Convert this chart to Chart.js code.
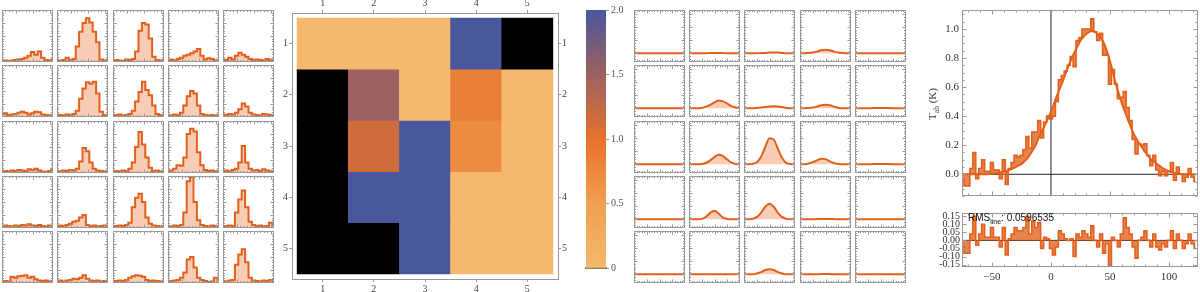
<!DOCTYPE html>
<html>
<head>
<meta charset="utf-8">
<script src="https://cdn.jsdelivr.net/npm/chart.js@4.4.1/dist/chart.umd.min.js"></script>
<style>
  html, body { margin: 0; padding: 0; background: #fff; }
  #wrap { position: relative; width: 1200px; height: 292px; overflow: hidden; }
  #wrap canvas { position: absolute; }
</style>
</head>
<body>
<div id="wrap"></div>
<script>
// ---- observed spectra, 5x5 grid (normalised, 16 channels each) ----
const channels = [1, 2, 3, 4, 5, 6, 7, 8, 9, 10, 11, 12, 13, 14, 15, 16];
const obsRow1 = [
  [0.02,0.03,0.02,0.03,0.04,0.05,0.06,0.08,0.12,0.19,0.14,0.20,0.08,0.04,0.03,0.05],
  [0.03,0.03,0.04,0.08,0.04,0.06,0.30,0.58,0.75,0.84,0.76,0.58,0.38,0.05,0.03,0.04],
  [0.03,0.04,0.03,0.02,0.05,0.04,0.06,0.20,0.60,0.75,0.72,0.45,0.10,0.04,0.03,0.03],
  [0.03,0.05,0.03,0.06,0.08,0.12,0.14,0.17,0.20,0.25,0.12,0.05,0.07,0.06,0.03,0.04],
  [0.05,0.04,0.08,0.05,0.12,0.18,0.14,0.10,0.06,0.04,0.05,0.04,0.03,0.06,0.04,0.05]
];
const obsRow2 = [
  [0.05,0.07,0.04,0.05,0.06,0.08,0.10,0.08,0.05,0.07,0.10,0.09,0.05,0.04,0.03,0.04],
  [0.05,0.04,0.03,0.05,0.04,0.06,0.12,0.35,0.55,0.67,0.64,0.68,0.45,0.10,0.04,0.03],
  [0.03,0.04,0.05,0.03,0.04,0.06,0.12,0.30,0.48,0.68,0.52,0.42,0.22,0.06,0.04,0.03],
  [0.04,0.03,0.05,0.04,0.08,0.22,0.40,0.50,0.45,0.22,0.06,0.04,0.03,0.04,0.03,0.04],
  [0.05,0.04,0.06,0.05,0.08,0.15,0.26,0.20,0.08,0.05,0.04,0.03,0.06,0.05,0.04,0.03]
];
const obsRow3 = [
  [0.03,0.04,0.03,0.05,0.04,0.06,0.05,0.04,0.07,0.06,0.08,0.05,0.03,0.02,0.04,0.08],
  [0.04,0.03,0.05,0.04,0.06,0.05,0.08,0.22,0.48,0.42,0.20,0.08,0.05,0.04,0.03,0.04],
  [0.03,0.04,0.03,0.05,0.04,0.08,0.20,0.50,0.79,0.55,0.30,0.10,0.04,0.05,0.03,0.04],
  [0.04,0.05,0.08,0.15,0.14,0.30,0.75,0.85,0.80,0.40,0.15,0.06,0.04,0.05,0.03,0.04],
  [0.04,0.05,0.03,0.06,0.08,0.20,0.52,0.20,0.08,0.05,0.06,0.04,0.07,0.05,0.03,0.04]
];
const obsRow4 = [
  [0.03,0.05,0.04,0.03,0.05,0.04,0.06,0.05,0.07,0.05,0.04,0.06,0.04,0.03,0.05,0.04],
  [0.03,0.05,0.04,0.06,0.08,0.12,0.14,0.20,0.25,0.06,0.04,0.05,0.03,0.04,0.05,0.04],
  [0.03,0.04,0.05,0.04,0.06,0.10,0.40,0.58,0.66,0.50,0.20,0.08,0.05,0.04,0.03,0.04],
  [0.04,0.03,0.05,0.04,0.06,0.30,0.90,0.98,0.50,0.15,0.06,0.04,0.03,0.05,0.04,0.03],
  [0.03,0.04,0.05,0.04,0.30,0.55,0.72,0.40,0.12,0.06,0.04,0.05,0.03,0.04,0.10,0.05]
];
const obsRow5 = [
  [0.03,0.04,0.03,0.12,0.10,0.13,0.14,0.15,0.10,0.12,0.07,0.05,0.04,0.05,0.03,0.04],
  [0.04,0.05,0.03,0.05,0.06,0.08,0.07,0.10,0.15,0.08,0.05,0.04,0.05,0.03,0.04,0.03],
  [0.03,0.04,0.05,0.04,0.06,0.10,0.13,0.15,0.14,0.12,0.06,0.04,0.05,0.04,0.03,0.04],
  [0.03,0.04,0.05,0.06,0.10,0.20,0.45,0.50,0.30,0.10,0.06,0.04,0.02,0.03,0.10,0.08],
  [0.04,0.03,0.05,0.06,0.35,0.55,0.65,0.40,0.10,0.05,0.04,0.03,0.05,0.04,0.06,0.04]
];

// ---- fitted profiles, 5x5 grid (13 samples each) ----
const fitX = [0, 1, 2, 3, 4, 5, 6, 7, 8, 9, 10, 11, 12];
const fitRow1 = [
  [0,0,0,0,0,0,0,0,0,0,0,0,0],
  [0,0,0,0,0,0.01,0.01,0.01,0.01,0,0,0,0],
  [0,0,0,0,0.01,0.01,0.02,0.02,0.02,0.01,0,0,0],
  [0,0,0.01,0.02,0.04,0.07,0.08,0.07,0.04,0.02,0.01,0,0],
  [0,0,0,0,0,0,0,0,0,0,0,0,0]
];
const fitRow2 = [
  [0,0,0,0,0,0,0,0,0,0,0,0,0],
  [0,0,0,0.01,0.04,0.08,0.14,0.18,0.16,0.11,0.05,0.02,0.01],
  [0,0,0,0.01,0.02,0.03,0.04,0.05,0.04,0.03,0.01,0,0],
  [0,0,0.01,0.02,0.04,0.07,0.08,0.07,0.04,0.01,0,0,0],
  [0,0,0,0,0.005,0.01,0.01,0.01,0.005,0,0,0,0]
];
const fitRow3 = [
  [0,0,0,0,0,0,0,0,0,0,0,0,0],
  [0,0,0,0.01,0.03,0.09,0.17,0.22,0.19,0.11,0.04,0.01,0],
  [0,0,0.01,0.05,0.17,0.40,0.60,0.57,0.35,0.14,0.03,0.01,0],
  [0,0,0.02,0.05,0.09,0.13,0.12,0.07,0.03,0.01,0,0,0],
  [0,0,0,0,0.005,0.01,0.01,0.01,0.005,0,0,0,0]
];
const fitRow4 = [
  [0,0,0,0,0,0,0,0,0,0,0,0,0],
  [0,0,0,0.01,0.06,0.15,0.20,0.13,0.04,0.01,0,0,0],
  [0,0,0.01,0.05,0.15,0.29,0.36,0.29,0.15,0.05,0.01,0,0],
  [0,0,0,0,0.005,0.01,0.01,0.01,0.005,0,0,0,0],
  [0,0,0,0,0,0,0,0,0,0,0,0,0]
];
const fitRow5 = [
  [0,0,0,0,0,0,0,0,0,0,0,0,0],
  [0,0,0,0,0,0,0,0,0,0,0,0,0],
  [0,0,0,0.02,0.05,0.10,0.12,0.10,0.05,0.02,0,0,0],
  [0,0,0,0,0,0.005,0.005,0.005,0,0,0,0,0],
  [0,0,0,0,0,0,0,0,0,0,0,0,0]
];

// ---- ratio map (null = no value, drawn black) ----
const heatIndex = [1, 2, 3, 4, 5];
const ratioRow1 = [0, 0, 0, 2.0, null];
const ratioRow2 = [null, 1.5, 0, 0.85, 0];
const ratioRow3 = [null, 1.17, 2.0, 0.72, 0];
const ratioRow4 = [null, 2.0, 2.0, 0, 0];
const ratioRow5 = [null, null, 2.0, 0, 0];
const cbarTicks = [0, 0.5, 1.0, 1.5, 2.0];
const cbarColors = [[245,184,108], [240,160,82], [232,114,44], [156,97,97], [73,87,156]];

// ---- averaged spectrum (km/s, K) ----
const velocity = [-75,-72.5,-70,-67.5,-65,-62.5,-60,-57.5,-55,-52.5,-50,-47.5,-45,-42.5,-40,-37.5,-35,-32.5,-30,-27.5,
  -25,-22.5,-20,-17.5,-15,-12.5,-10,-7.5,-5,-2.5,0,2.5,5,7.5,10,12.5,15,17.5,20,22.5,
  25,27.5,30,32.5,35,37.5,40,42.5,45,47.5,50,52.5,55,57.5,60,62.5,65,67.5,70,72.5,
  75,77.5,80,82.5,85,87.5,90,92.5,95,97.5,100,102.5,105,107.5,110,112.5,115,117.5,120,122.5];
const tmbData = [-0.04,-0.08,-0.08,0.04,0.15,-0.03,0.04,0.10,0.02,0.02,
  0.08,0.03,0.03,-0.03,0.10,-0.07,0.04,0.08,0.13,0.12,
  0.13,0.17,0.26,0.18,0.29,0.29,0.37,0.25,0.36,0.40,
  0.38,0.40,0.50,0.65,0.68,0.71,0.75,0.81,0.74,0.92,
  0.94,1.00,1.00,1.00,1.07,0.98,0.92,0.97,0.82,0.82,
  0.62,0.72,0.62,0.52,0.53,0.57,0.46,0.37,0.24,0.14,
  0.21,0.20,0.21,0.13,0.06,0.13,0.03,-0.01,0.02,-0.01,
  0.02,0.08,-0.04,0.05,0.00,-0.05,-0.02,0.04,-0.02,-0.05];
const fitData = [0,0,0,0,0,0,0,0,0,0.002,
  0.004,0.006,0.01,0.014,0.018,0.024,0.03,0.04,0.05,0.06,
  0.07,0.09,0.11,0.14,0.17,0.21,0.26,0.30,0.34,0.385,
  0.43,0.485,0.54,0.59,0.64,0.695,0.75,0.795,0.84,0.88,
  0.92,0.945,0.965,0.98,0.985,0.98,0.96,0.935,0.90,0.845,
  0.78,0.70,0.62,0.555,0.49,0.435,0.38,0.33,0.28,0.245,
  0.21,0.18,0.15,0.125,0.10,0.085,0.07,0.055,0.04,0.03,
  0.02,0.015,0.01,0.005,0,0,0,0,0,0];
const residData = [-0.04,-0.08,-0.08,0.04,0.15,-0.03,0.04,0.10,0.02,0.02,
  0.08,0.02,0.02,-0.04,0.08,-0.09,0.01,0.04,0.08,0.06,
  0.06,0.08,0.15,0.04,0.12,0.08,0.11,-0.05,0.02,0.01,
  -0.05,-0.09,-0.04,0.06,0.04,0.01,0.00,0.01,-0.10,0.04,
  0.02,0.06,0.04,0.02,0.09,0.00,-0.04,0.04,-0.08,-0.02,
  -0.16,0.02,0.00,-0.04,0.04,0.14,0.08,0.04,-0.04,-0.11,
  0.00,0.02,0.06,0.00,-0.04,0.04,-0.04,-0.06,-0.02,-0.04,
  0.00,0.06,-0.05,0.04,0.00,-0.05,-0.02,0.04,-0.02,-0.05];
const specTicks = [0, 0.2, 0.4, 0.6, 0.8, 1.0];
const residTicks = [-0.15, -0.10, -0.05, 0, 0.05, 0.10, 0.15];
const velTicks = [-50, 0, 50, 100];
const rmsLine = '0.0596535';

// ---- styling ----
const ORANGE = '#e2601c';
const PEACH = 'rgba(240,130,70,0.4)';
const HATCH = 'rgba(226,96,28,0.78)';
const FRAME = '#999';
const SERIF = '"Liberation Serif", "DejaVu Serif", serif';
const SANS = '"Liberation Sans", Arial, sans-serif';
Chart.defaults.font.family = SERIF;
Chart.defaults.font.size = 11;
Chart.defaults.color = '#444';

const wrap = document.getElementById('wrap');
function addCanvas(x, y, w, h) {
  const c = document.createElement('canvas');
  c.width = w; c.height = h;
  c.style.left = x + 'px'; c.style.top = y + 'px';
  c.style.width = w + 'px'; c.style.height = h + 'px';
  wrap.appendChild(c);
  return c;
}

// frame with inward tick marks (Mathematica style)
const frameTicks = {
  id: 'frameTicks',
  afterDatasetsDraw(chart, args, o) {
    const { ctx, chartArea: a, scales } = chart;
    ctx.save();
    ctx.strokeStyle = o.color || FRAME;
    ctx.lineWidth = 1;
    const L = Math.round(a.left) + 0.5, T = Math.round(a.top) + 0.5;
    const R = Math.round(a.right) - 0.5, B = Math.round(a.bottom) - 0.5;
    ctx.strokeRect(L, T, R - L, B - T);
    const marks = (scale, step, len, vertical) => {
      if (!step) return;
      const lo = Math.min(scale.min, scale.max), hi = Math.max(scale.min, scale.max);
      ctx.beginPath();
      for (let k = Math.ceil(lo / step - 1e-6); k * step <= hi + 1e-9; k++) {
        const p = Math.round(scale.getPixelForValue(k * step)) + 0.5;
        if (vertical) { ctx.moveTo(L, p); ctx.lineTo(L + len, p); ctx.moveTo(R, p); ctx.lineTo(R - len, p); }
        else { ctx.moveTo(p, B); ctx.lineTo(p, B - len); ctx.moveTo(p, T); ctx.lineTo(p, T + len); }
      }
      ctx.stroke();
    };
    marks(scales.x, o.xMinor, o.minorLen, false);
    marks(scales.x, o.xMajor, o.majorLen, false);
    marks(scales.y, o.yMinor, o.minorLen, true);
    marks(scales.y, o.yMajor, o.majorLen, true);
    ctx.restore();
  }
};

// text with a subscript part, drawn on the canvas
function drawSub(ctx, parts, x, y) {
  let cx = x;
  parts.forEach(([t, font, dy]) => { ctx.font = font; ctx.fillText(t, cx, y + dy); cx += ctx.measureText(t).width; });
}
function subWidth(ctx, parts) {
  return parts.reduce((s, [t, font]) => { ctx.font = font; return s + ctx.measureText(t).width; }, 0);
}

const common = () => ({
  responsive: false, animation: false, events: [],
  layout: { padding: 0 },
  plugins: { legend: { display: false }, tooltip: { enabled: false } }
});

const obsColX = [2, 57, 113, 168, 223];
const fitColX = [634, 689, 744, 800, 855];
const rowY = [10, 65, 121, 176, 231];

// left grid: observed step spectra
[obsRow1, obsRow2, obsRow3, obsRow4, obsRow5].forEach((row, r) => row.forEach((vals, c) => {
  const opts = common();
  opts.plugins.frameTicks = { xMinor: 1, xMajor: 5, yMinor: 0.05, yMajor: 0.25, minorLen: 1.5, majorLen: 3 };
  opts.scales = { x: { type: 'linear', display: false, min: 1, max: 16 }, y: { display: false, min: 0, max: 1 } };
  new Chart(addCanvas(obsColX[c], rowY[r], 51, 52), {
    type: 'line',
    data: { datasets: [{ data: channels.map((x, i) => ({ x, y: vals[i] })), stepped: 'middle',
      borderColor: ORANGE, borderWidth: 2, pointRadius: 0, fill: 'start', backgroundColor: PEACH }] },
    options: opts,
    plugins: [frameTicks]
  });
}));

// middle grid: fitted profiles
[fitRow1, fitRow2, fitRow3, fitRow4, fitRow5].forEach((row, r) => row.forEach((vals, c) => {
  const opts = common();
  opts.plugins.frameTicks = { xMinor: 0.6, xMajor: 3, yMinor: 0.06, yMajor: 0.3, minorLen: 1.5, majorLen: 3 };
  opts.scales = { x: { type: 'linear', display: false, min: 0, max: 12 }, y: { display: false, min: -0.2, max: 1.0 } };
  new Chart(addCanvas(fitColX[c], rowY[r], 51, 52), {
    type: 'line',
    data: { datasets: [{ data: fitX.map((x, i) => ({ x, y: vals[i] })), cubicInterpolationMode: 'monotone',
      borderColor: ORANGE, borderWidth: 2, pointRadius: 0, fill: { value: 0 }, backgroundColor: PEACH }] },
    options: opts,
    plugins: [frameTicks]
  });
}));

// ratio map
function colorFor(v) {
  if (v === null) return '#000';
  const t = Math.max(0, Math.min(2, v));
  let k = 0;
  while (k < cbarTicks.length - 2 && t > cbarTicks[k + 1]) k++;
  const f = (t - cbarTicks[k]) / (cbarTicks[k + 1] - cbarTicks[k]);
  const c = cbarColors[k].map((a, j) => Math.round(a + f * (cbarColors[k + 1][j] - a)));
  return `rgb(${c.join(',')})`;
}
const heatAxis = (pos) => ({
  type: 'linear', position: pos, min: 0.4, max: 5.6, offset: false, reverse: pos === 'left' || pos === 'right',
  afterBuildTicks: s => { s.ticks = heatIndex.map(v => ({ value: v })); },
  afterFit: s => { if (pos === 'top' || pos === 'bottom') s.height = 13; else s.width = 17; },
  grid: { drawOnChartArea: false, drawTicks: true, tickLength: 3, color: FRAME, offset: false },
  border: { display: true, color: FRAME },
  ticks: { padding: 1, font: { size: 10 }, color: '#444', autoSkip: false, maxRotation: 0, callback: v => String(v) }
});
{
  const opts = common();
  opts.scales = { x: heatAxis('bottom'), x2: heatAxis('top'), y: heatAxis('left'), y2: heatAxis('right') };
  new Chart(addCanvas(275, 0, 300, 292), {
    type: 'bar',
    data: { datasets: [ratioRow1, ratioRow2, ratioRow3, ratioRow4, ratioRow5].map((row, r) => ({
      data: heatIndex.map(c => ({ x: c, y: [heatIndex[r] - 0.5, heatIndex[r] + 0.5] })),
      backgroundColor: row.map(colorFor), borderWidth: 0,
      barPercentage: 1, categoryPercentage: 1, grouped: false })) },
    options: opts
  });
}

// colour bar
{
  const opts = common();
  opts.layout.padding = { left: 6, right: 0, top: 10, bottom: 24 };
  opts.scales = {
    x: { display: true, afterFit: s => { s.height = 0; },
      ticks: { display: false }, grid: { display: false, drawTicks: false },
      border: { display: true, color: '#8c8050', width: 2 } },
    y: { position: 'right', min: 0, max: 2,
      afterBuildTicks: s => { s.ticks = cbarTicks.map(v => ({ value: v })); },
      afterFit: s => { s.width = 28; },
      grid: { drawOnChartArea: false, drawTicks: true, tickLength: 3, color: FRAME },
      border: { display: false },
      ticks: { padding: 2, font: { size: 10 }, color: '#555', callback: v => v === 0 ? '0' : v.toFixed(1) } }
  };
  new Chart(addCanvas(580, 0, 54, 292), {
    type: 'bar',
    data: { labels: [''], datasets: [{ data: [[cbarTicks[0], cbarTicks[cbarTicks.length - 1]]],
      barPercentage: 1, categoryPercentage: 1, borderWidth: 0,
      backgroundColor: c => {
        const y = c.chart.scales.y;
        const y0 = y ? y.getPixelForValue(0) : NaN, y1 = y ? y.getPixelForValue(2) : NaN;
        if (!isFinite(y0) || !isFinite(y1) || y0 === y1) return `rgb(${cbarColors[0].join(',')})`;
        const g = c.chart.ctx.createLinearGradient(0, y0, 0, y1);
        cbarTicks.forEach((t, i) => g.addColorStop(t / 2, `rgb(${cbarColors[i].join(',')})`));
        return g;
      } }] },
    options: opts
  });
}

// averaged spectrum with fit
const velMin = -75.4, velMax = 124.6;
{
  const opts = common();
  opts.layout.padding = { left: 0, right: 2, top: 7, bottom: 6 };
  opts.plugins.frameTicks = { xMinor: 10, xMajor: 50, yMinor: 0.05, yMajor: 0.2, minorLen: 2, majorLen: 4, color: '#999' };
  opts.scales = {
    x: { type: 'linear', display: false, min: velMin, max: velMax },
    y: { min: -0.152, max: 1.133,
      afterBuildTicks: s => { s.ticks = specTicks.map(v => ({ value: v })); },
      afterFit: s => { s.width = 62; },
      grid: { display: false, drawTicks: false }, border: { display: false },
      ticks: { padding: 3, color: '#333', font: { size: 11 }, callback: v => v.toFixed(1) } }
  };
  const title = {
    id: 'tTitle',
    afterDraw(chart) {
      const ctx = chart.ctx;
      const parts = [['T', '11px ' + SERIF, 0], ['ab', '7.5px ' + SERIF, 2.5], [' (K)', '11px ' + SERIF, 0]];
      ctx.save();
      ctx.translate(32, 104);
      ctx.rotate(-Math.PI / 2);
      ctx.fillStyle = '#333';
      drawSub(ctx, parts, -subWidth(ctx, parts) / 2, 4);
      ctx.restore();
    }
  };
  new Chart(addCanvas(900, 0, 300, 206), {
    type: 'line',
    data: { datasets: [
      { data: velocity.map((x, i) => ({ x, y: tmbData[i] })), stepped: 'middle', borderColor: ORANGE, borderWidth: 1.6,
        pointRadius: 0, fill: 1, backgroundColor: HATCH },
      { data: velocity.map((x, i) => ({ x, y: fitData[i] })), cubicInterpolationMode: 'monotone', borderColor: ORANGE,
        borderWidth: 2, pointRadius: 0, fill: false },
      { data: [{ x: velMin, y: 0 }, { x: velMax, y: 0 }], borderColor: '#222', borderWidth: 1, pointRadius: 0 },
      { data: [{ x: 0, y: -0.152 }, { x: 0, y: 1.133 }], borderColor: '#222', borderWidth: 1, pointRadius: 0 }
    ] },
    options: opts,
    plugins: [frameTicks, title]
  });
}

// residuals
{
  const opts = common();
  opts.layout.padding = { left: 0, right: 2, top: 7, bottom: 0 };
  opts.plugins.frameTicks = { xMinor: 10, xMajor: 50, yMajor: 0.05, minorLen: 2, majorLen: 4, color: '#999' };
  opts.scales = {
    x: { type: 'linear', min: velMin, max: velMax,
      afterBuildTicks: s => { s.ticks = velTicks.map(v => ({ value: v })); },
      afterFit: s => { s.height = 25; },
      grid: { display: false, drawTicks: false }, border: { display: false },
      ticks: { padding: 4, color: '#333', font: { size: 11 }, maxRotation: 0, callback: v => v < 0 ? '\u2212' + Math.abs(v) : String(v) } },
    y: { min: -0.165, max: 0.17,
      afterBuildTicks: s => { s.ticks = residTicks.map(v => ({ value: v })); },
      afterFit: s => { s.width = 62; },
      grid: { display: false, drawTicks: false }, border: { display: false },
      ticks: { padding: 2, color: '#333', font: { size: 10 }, autoSkip: false, callback: v => v.toFixed(2) } }
  };
  const rms = {
    id: 'rmsText',
    afterDraw(chart) {
      const ctx = chart.ctx;
      ctx.save();
      ctx.fillStyle = '#111';
      drawSub(ctx, [['RMS', '10px ' + SANS, 0], ['line', '7px ' + SANS, 2.5], [': ' + rmsLine, '10px ' + SANS, 0]], 68, 16);
      ctx.restore();
    }
  };
  new Chart(addCanvas(900, 205, 300, 87), {
    type: 'line',
    data: { datasets: [
      { data: velocity.map((x, i) => ({ x, y: residData[i] })), stepped: 'middle', borderColor: ORANGE, borderWidth: 1.6,
        pointRadius: 0, fill: { value: 0 }, backgroundColor: HATCH },
      { data: [{ x: velMin, y: 0 }, { x: velMax, y: 0 }], borderColor: '#222', borderWidth: 1, pointRadius: 0 }
    ] },
    options: opts,
    plugins: [frameTicks, rms]
  });
}
</script>
</body>
</html>
